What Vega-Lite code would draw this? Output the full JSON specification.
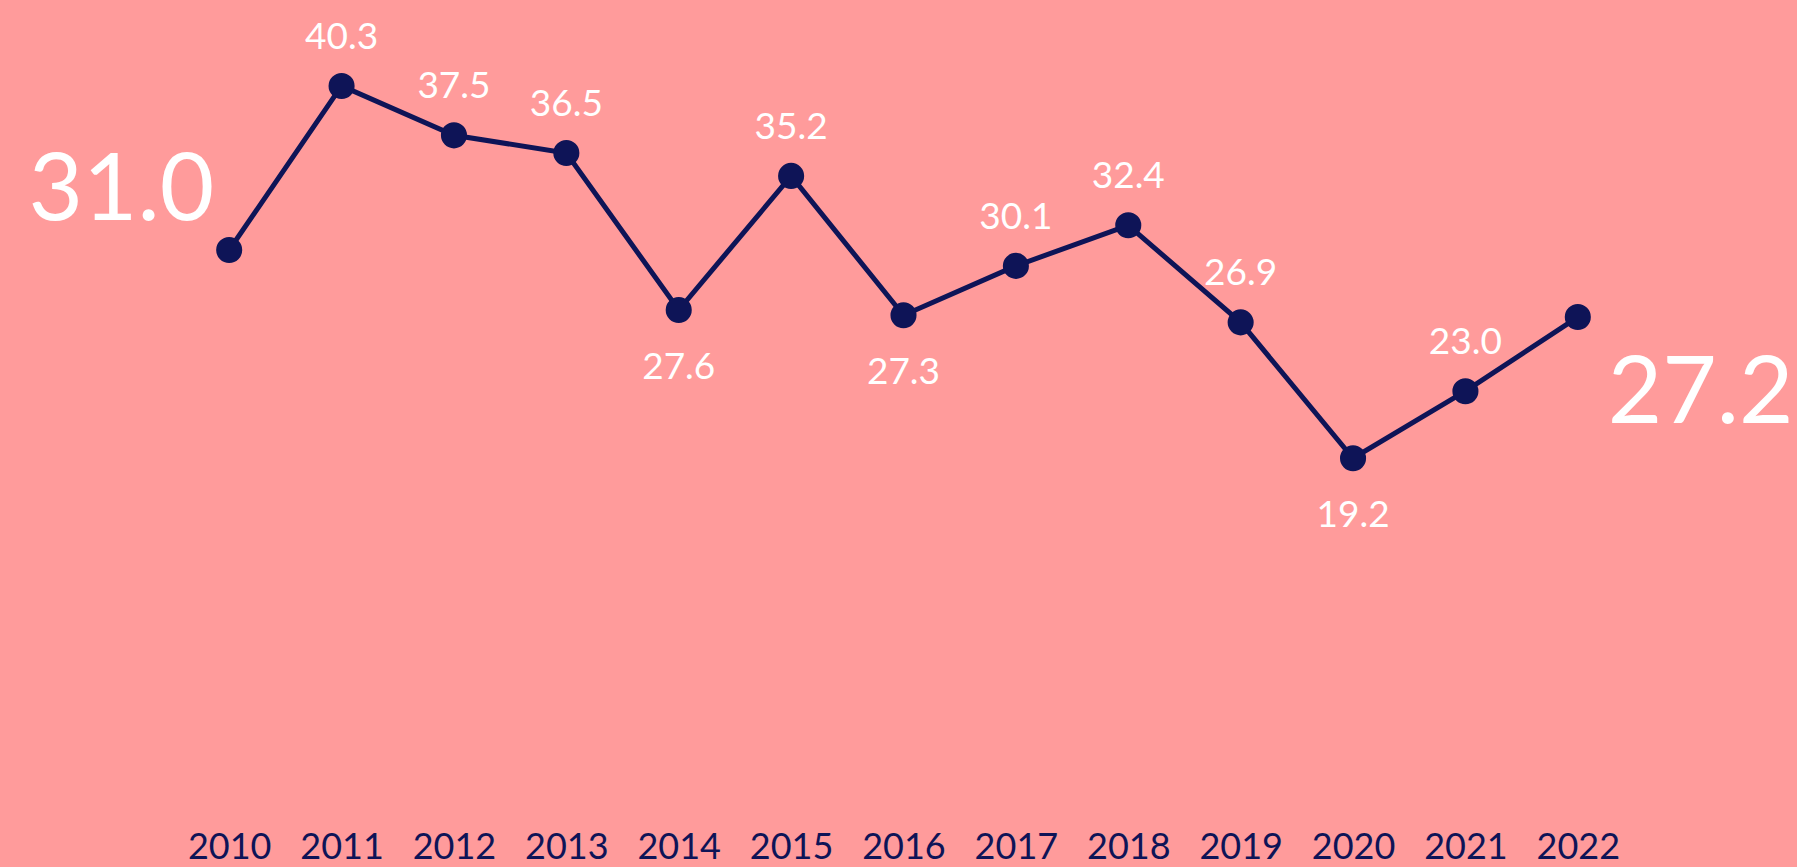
{
  "$schema": "https://vega.github.io/schema/vega-lite/v6.json",
  "autosize": "none",
  "width": 1461,
  "height": 794,
  "padding": {"left": 173, "top": 3, "right": 163, "bottom": 70},
  "background": "#FF9B9B",
  "config": {"view": {"stroke": null}, "font": "Lato"},
  "data": {"values": [
    {"year": "2010", "value": 31.0},
    {"year": "2011", "value": 40.3},
    {"year": "2012", "value": 37.5},
    {"year": "2013", "value": 36.5},
    {"year": "2014", "value": 27.6},
    {"year": "2015", "value": 35.2},
    {"year": "2016", "value": 27.3},
    {"year": "2017", "value": 30.1},
    {"year": "2018", "value": 32.4},
    {"year": "2019", "value": 26.9},
    {"year": "2020", "value": 19.2},
    {"year": "2021", "value": 23.0},
    {"year": "2022", "value": 27.2}
  ]},
  "encoding": {
    "x": {"field": "year", "type": "ordinal", "scale": {"type": "point", "padding": 0.5},
      "axis": {"title": null, "labelAngle": 0, "ticks": false, "domain": false, "grid": false,
        "labelFontSize": 36, "labelColor": "#0E1457", "labelPadding": 33, "labelFont": "Lato"}},
    "y": {"field": "value", "type": "quantitative", "scale": {"domain": [0, 45], "nice": false, "zero": true}, "axis": null}
  },
  "layer": [
    {"mark": {"type": "line", "color": "#0E1457", "strokeWidth": 5}},
    {"mark": {"type": "circle", "color": "#0E1457", "size": 680, "opacity": 1}},
    {
      "transform": [{"filter": {"not": {"field": "year", "oneOf": ["2010", "2014", "2016", "2020", "2022"]}}}],
      "mark": {"type": "text", "color": "white", "fontSize": 37, "baseline": "middle", "dy": -48},
      "encoding": {"text": {"field": "value", "type": "quantitative", "format": ".1f"}}
    },
    {
      "transform": [{"filter": {"field": "year", "oneOf": ["2014", "2016", "2020"]}}],
      "mark": {"type": "text", "color": "white", "fontSize": 37, "baseline": "middle", "dy": 58},
      "encoding": {"text": {"field": "value", "type": "quantitative", "format": ".1f"}}
    },
    {
      "transform": [{"filter": {"field": "year", "equal": "2010"}}],
      "mark": {"type": "text", "color": "white", "fontSize": 94, "baseline": "alphabetic", "align": "right", "dx": -15, "dy": -30},
      "encoding": {"text": {"field": "value", "type": "quantitative", "format": ".1f"}}
    },
    {
      "transform": [{"filter": {"field": "year", "equal": "2022"}}],
      "mark": {"type": "text", "color": "white", "fontSize": 94, "baseline": "alphabetic", "align": "left", "dx": 30, "dy": 106},
      "encoding": {"text": {"field": "value", "type": "quantitative", "format": ".1f"}}
    }
  ]
}
